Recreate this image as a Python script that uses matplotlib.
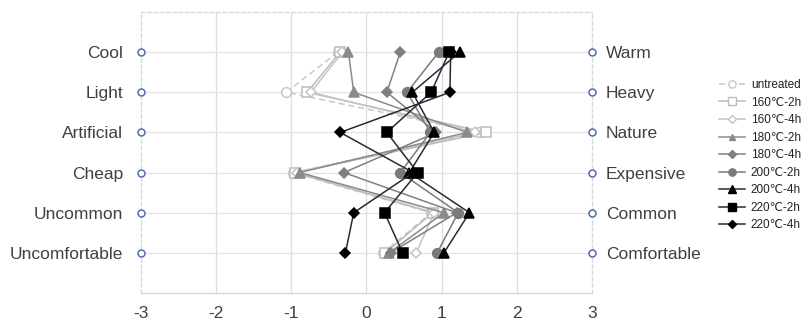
import matplotlib.pyplot as plt
from matplotlib.lines import Line2D
import numpy as np

plt.rcParams['font.family'] = ['Liberation Sans', 'DejaVu Sans']

# --------------------------------------------------
# data
# --------------------------------------------------
left_terms = ["Cool", "Light", "Artificial", "Cheap", "Uncommon", "Uncomfortable"]
right_terms = ["Warm", "Heavy", "Nature", "Expensive", "Common", "Comfortable"]
x_ticks = [-3, -2, -1, 0, 1, 2, 3]

series_names = ["untreated", "160℃-2h", "160℃-4h", "180℃-2h", "180℃-4h",
                "200℃-2h", "200℃-4h", "220℃-2h", "220℃-4h"]

untreated = [-0.38, -1.07, 1.50, -0.98, 0.86, 0.22]
t160_2h = [-0.35, -0.79, 1.59, -0.95, 0.88, 0.25]
t160_4h = [-0.32, -0.74, 1.45, -0.93, 0.90, 0.66]
t180_2h = [-0.24, -0.17, 1.34, -0.89, 1.03, 0.30]
t180_4h = [0.45, 0.27, 0.93, -0.30, 1.20, 0.32]
t200_2h = [0.96, 0.54, 0.85, 0.45, 1.22, 0.94]
t200_4h = [1.24, 0.61, 0.90, 0.57, 1.37, 1.03]
t220_2h = [1.10, 0.86, 0.27, 0.68, 0.24, 0.48]
t220_4h = [1.12, 1.11, -0.35, 0.62, -0.17, -0.28]

series_values = [untreated, t160_2h, t160_4h, t180_2h, t180_4h,
                 t200_2h, t200_4h, t220_2h, t220_4h]

# --------------------------------------------------
# styles: (line colour, marker, marker face, marker size, linestyle)
# --------------------------------------------------
styles = [
    ("#c8c8c8", "o", "white", 7, (0, (4, 2.5))),
    ("#bcbcbc", "s", "white", 7, "-"),
    ("#c4c4c4", "D", "white", 5.5, "-"),
    ("#8a8a8a", "^", "#8a8a8a", 6.5, "-"),
    ("#808080", "D", "#808080", 5, "-"),
    ("#7a7a7a", "o", "#7a7a7a", 7, "-"),
    ("#262b36", "^", "black", 7, "-"),
    ("#262b36", "s", "black", 7.5, "-"),
    ("#262b36", "D", "black", 5, "-"),
]

fig = plt.figure(figsize=(8.04, 3.22), dpi=100)
ax = fig.add_axes([141 / 804, 29 / 322, 451 / 804, 281 / 322])

rows = np.arange(1, len(left_terms) + 1)

# grid
for x in x_ticks[1:-1]:
    ax.axvline(x, color="#dcdde3", lw=0.9, zorder=0)
for y in rows:
    ax.axhline(y, color="#e3e3e6", lw=0.9, zorder=0)

# series
for name, vals, (col, mk, face, ms, ls) in zip(series_names, series_values, styles):
    ax.plot(vals, rows, color=col, lw=1.1, ls=ls, marker=mk, ms=ms,
            mfc=face, mec=col if face == "white" else face, mew=1.1,
            label=name, zorder=3)

# small open circles at both ends of each scale
ax.plot([-3] * len(rows), rows, ls="none", marker="o", ms=5, mfc="white",
        mec="#4f6fa8", mew=1.1, clip_on=False, zorder=5)
ax.plot([3] * len(rows), rows, ls="none", marker="o", ms=5, mfc="white",
        mec="#4f6fa8", mew=1.1, clip_on=False, zorder=5)

ax.set_xlim(-3, 3)
ax.set_ylim(7, 0)

for side in ["left", "right", "top"]:
    ax.spines[side].set_color("#d6d7dc")
    ax.spines[side].set_linestyle((0, (3, 2)))
    ax.spines[side].set_linewidth(0.9)
ax.spines["bottom"].set_color("#d6d7dc")
ax.spines["bottom"].set_linewidth(0.9)

ax.set_xticks(x_ticks)
ax.set_xticklabels([str(v) for v in x_ticks], fontsize=12.5, color="#404040")
ax.set_yticks(rows)
ax.set_yticklabels(left_terms, fontsize=12.5, color="#404040")
ax.tick_params(axis="both", length=0)
ax.tick_params(axis="y", pad=13)
ax.tick_params(axis="x", pad=9)

ax2 = ax.twinx()
ax2.set_ylim(7, 0)
ax2.set_yticks(rows)
ax2.set_yticklabels(right_terms, fontsize=12.5, color="#404040")
ax2.tick_params(axis="y", length=0, pad=10)
for s in ax2.spines.values():
    s.set_visible(False)

# legend
handles = []
for name, (col, mk, face, ms, ls) in zip(series_names, styles):
    handles.append(Line2D([], [], color=col, lw=1.1, ls=ls, marker=mk,
                          ms=ms * 0.75, mfc=face,
                          mec=col if face == "white" else face, label=name))
fig.legend(handles=handles, loc="upper left", bbox_to_anchor=(719 / 804, 1 - 79 / 322),
           frameon=False, fontsize=8.5, handlelength=2.2, handletextpad=0.5,
           labelspacing=0.47, borderpad=0, borderaxespad=0, labelcolor="#222222")

fig.savefig("out.png", dpi=100)
